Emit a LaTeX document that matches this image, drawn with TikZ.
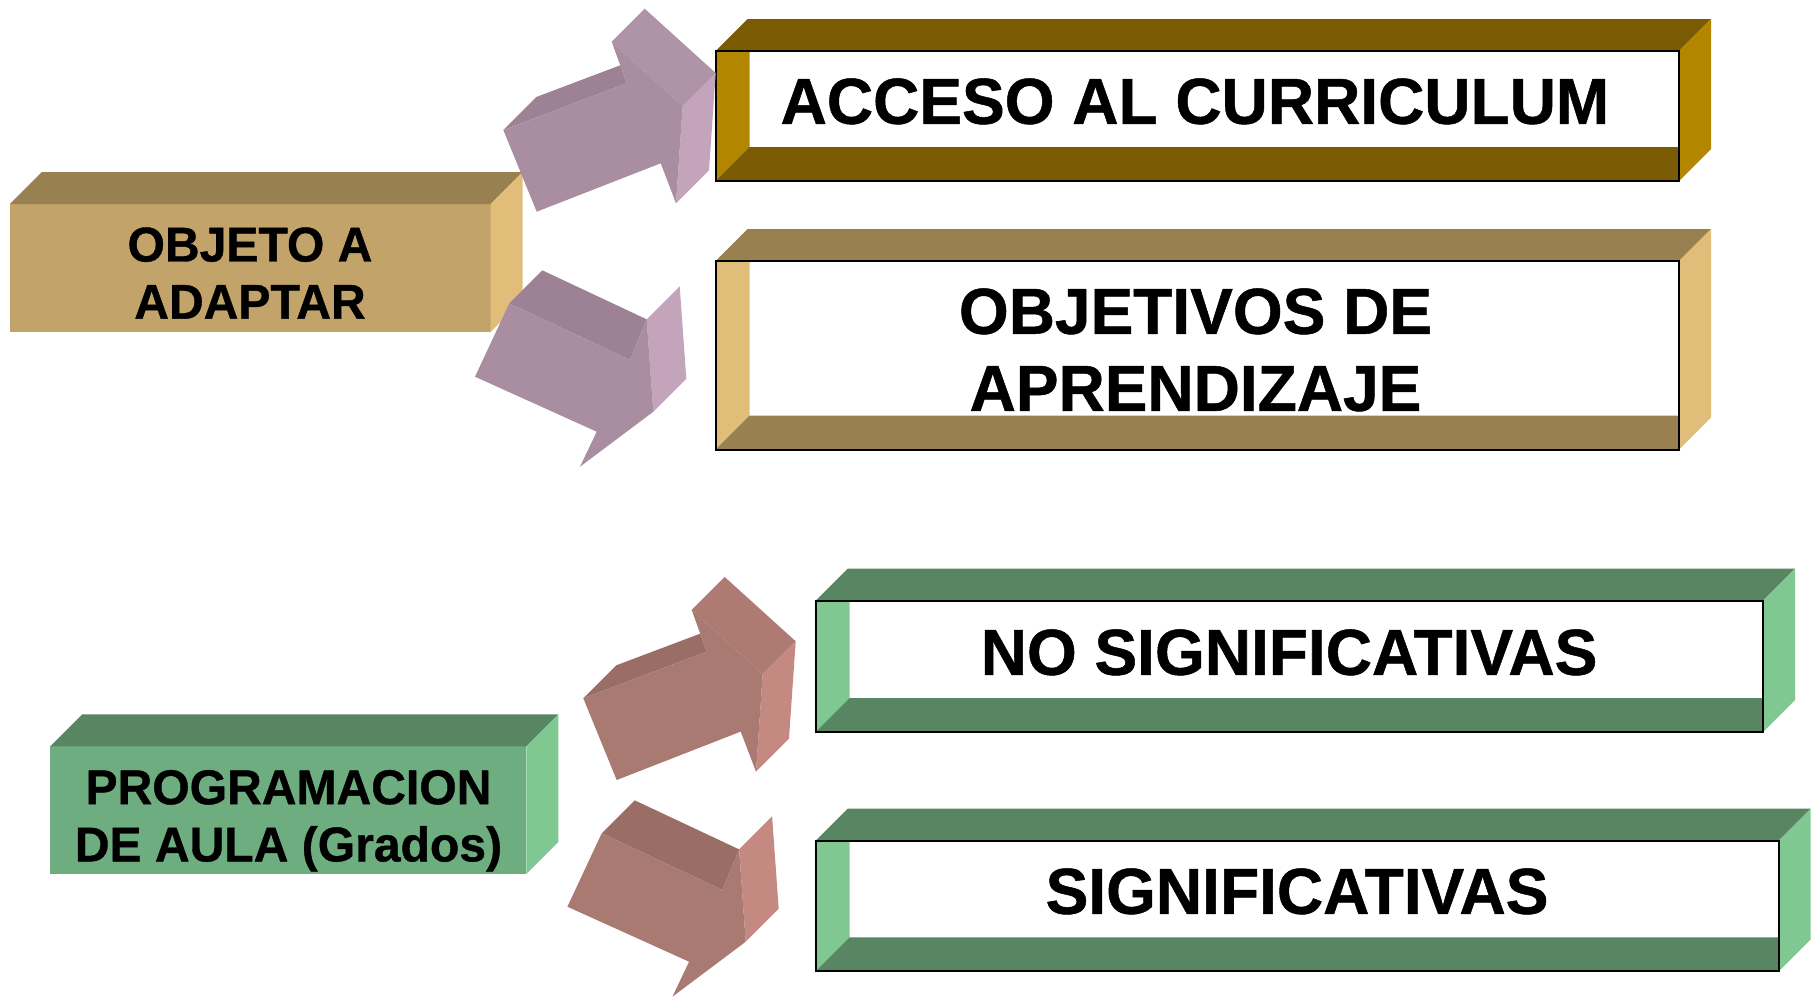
\documentclass[tikz,border=0pt]{standalone}
\usepackage{fontspec}
\setmainfont{Liberation Sans}[FakeStretch=0.985, FakeBold=0.8]
\usetikzlibrary{calc}

% Face colours
\definecolor{oliveTop}{HTML}{988050}
\definecolor{oliveFront}{HTML}{C2A46A}
\definecolor{oliveSide}{HTML}{E0BE7A}
\definecolor{bronzeTop}{HTML}{7A5A03}
\definecolor{bronzeSide}{HTML}{B38600}
\definecolor{greenTop}{HTML}{588663}
\definecolor{greenFront}{HTML}{6EAD7F}
\definecolor{greenSide}{HTML}{80C891}
\definecolor{mauveFront}{HTML}{A98EA1}
\definecolor{mauveTop}{HTML}{9D8295}
\definecolor{mauveHead}{HTML}{AF93A7}
\definecolor{mauveSide}{HTML}{C4A4BB}
\definecolor{roseFront}{HTML}{A87A72}
\definecolor{roseTop}{HTML}{9A6E67}
\definecolor{roseHead}{HTML}{AE7B73}
\definecolor{roseSide}{HTML}{C48A82}

\begin{document}
\begin{tikzpicture}[x=0.5pt, y=-0.5pt,
    bigtext/.style={font=\fontsize{32.5}{38.5}\selectfont\bfseries, inner sep=0pt, anchor=north, align=center},
    smalltext/.style={font=\fontsize{24.4}{28.6}\selectfont\bfseries, inner sep=0pt, anchor=north, align=center},
    frameline/.style={draw=black, line width=1pt}]

    \useasboundingbox (0,0) rectangle (1814,996);

    % Solid boxes on the left: front, top and side faces
    \foreach \L/\T/\R/\B/\ct/\cf/\cs in {9.8/204/490.5/332/oliveTop/oliveFront/oliveSide,
                                         50.3/746.3/526.4/874/greenTop/greenFront/greenSide} {
        \fill[\cf] (\L,\T) rectangle (\R,\B);
        \fill[\ct] (\L,\T) -- (\L+32,\T-32) -- (\R+32,\T-32) -- (\R,\T) -- cycle;
        \fill[\cs] (\R,\T) -- (\R+32,\T-32) -- (\R+32,\B-32) -- (\R,\B) -- cycle;
    }

    % Open boxes on the right: we look in at the inner left wall and floor
    \foreach \L/\T/\R/\B/\ct/\cs in {715.5/51/1679/181/bronzeTop/bronzeSide,
                                     715.5/261/1679/449.5/oliveTop/oliveSide,
                                     815.6/600.7/1763/732/greenTop/greenSide,
                                     815.6/840.7/1778.7/971.3/greenTop/greenSide} {
        \fill[white] (\L,\T) rectangle (\R,\B);
        \fill[\ct] (\L,\T) -- (\L+32,\T-32) -- (\R+32,\T-32) -- (\R,\T) -- cycle;
        \fill[\cs] (\R,\T) -- (\R+32,\T-32) -- (\R+32,\B-32) -- (\R,\B) -- cycle;
        \fill[\cs] (\L,\T) -- (\L+34,\T) -- (\L+34,\B-34) -- (\L,\B) -- cycle;
        \fill[\ct] (\L+34,\B-34) -- (\R,\B-34) -- (\R,\B) -- (\L,\B) -- cycle;
        \draw[frameline] (\L,\T) rectangle (\R,\B);
    }

    % Labels
    \node[smalltext] (objeto) at (250,227) {OBJETO A\\ADAPTAR};
    \node[smalltext] (programacion) at (288.5,769.7) {PROGRAMACION\\DE AULA (Grados)};
    \node[bigtext] (acceso) at (1195,78) {ACCESO AL CURRICULUM};
    \node[bigtext] (objetivos) at (1195.5,288) {OBJETIVOS DE\\APRENDIZAJE};
    \node[bigtext] (nosig) at (1289,629) {NO SIGNIFICATIVAS};
    \node[bigtext] (sig) at (1297,868) {SIGNIFICATIVAS};

    % 3D arrows turning upwards
    \foreach \dx/\dy/\cf/\ct/\ch/\cs in {0/0/mauveFront/mauveTop/mauveHead/mauveSide,
                                         80/568.3/roseFront/roseTop/roseHead/roseSide} {
        \coordinate (ShaftTop) at (503.3+\dx,130+\dy);
        \coordinate (BarbIn) at (626.7+\dx,83.3+\dy);
        \coordinate (BarbTip) at (611.7+\dx,41.7+\dy);
        \coordinate (Tip) at (682.7+\dx,106+\dy);
        \coordinate (LowTip) at (676+\dx,203.3+\dy);
        \coordinate (LowIn) at (660.7+\dx,163.3+\dy);
        \coordinate (ShaftLow) at (536.7+\dx,211.7+\dy);
        \coordinate (ShaftTopBack) at ($(ShaftTop)+(33,-33)$);
        \coordinate (BarbInBack) at ($(BarbIn)+(33,-33)$);
        \coordinate (Cut) at (intersection of ShaftTopBack--BarbInBack and BarbIn--BarbTip);
        \fill[\ct] (ShaftTop) -- (ShaftTopBack) -- (Cut) -- (BarbIn) -- cycle;
        \fill[\ch] (BarbTip) -- ++(33,-33) -- ($(Tip)+(33,-33)$) -- (Tip) -- cycle;
        \fill[\cs] (Tip) -- ++(33,-33) -- ($(LowTip)+(33,-33)$) -- (LowTip) -- cycle;
        \fill[\cf] (ShaftTop) -- (BarbIn) -- (BarbTip) -- (Tip) -- (LowTip) -- (LowIn) -- (ShaftLow) -- cycle;
    }

    % 3D arrows turning downwards
    \foreach \dx/\dy/\cf/\ct/\cs in {0/0/mauveFront/mauveTop/mauveSide,
                                     92.4/530/roseFront/roseTop/roseSide} {
        \coordinate (ShaftTop) at (509.3+\dx,303.3+\dy);
        \coordinate (BarbIn) at (630+\dx,360+\dy);
        \coordinate (BarbTip) at (646.7+\dx,319.3+\dy);
        \coordinate (Tip) at (653.3+\dx,411.7+\dy);
        \coordinate (LowTip) at (580+\dx,466.7+\dy);
        \coordinate (LowIn) at (596.7+\dx,431.7+\dy);
        \coordinate (ShaftLow) at (475+\dx,376.7+\dy);
        \coordinate (ShaftTopBack) at ($(ShaftTop)+(33,-33)$);
        \coordinate (BarbInBack) at ($(BarbIn)+(33,-33)$);
        \coordinate (Cut) at (intersection of ShaftTopBack--BarbInBack and BarbIn--BarbTip);
        \fill[\ct] (ShaftTop) -- (ShaftTopBack) -- (Cut) -- (BarbIn) -- cycle;
        \fill[\cs] (BarbTip) -- ++(33,-33) -- ($(Tip)+(33,-33)$) -- (Tip) -- cycle;
        \fill[\cf] (ShaftTop) -- (BarbIn) -- (BarbTip) -- (Tip) -- (LowTip) -- (LowIn) -- (ShaftLow) -- cycle;
    }

\end{tikzpicture}
\end{document}
